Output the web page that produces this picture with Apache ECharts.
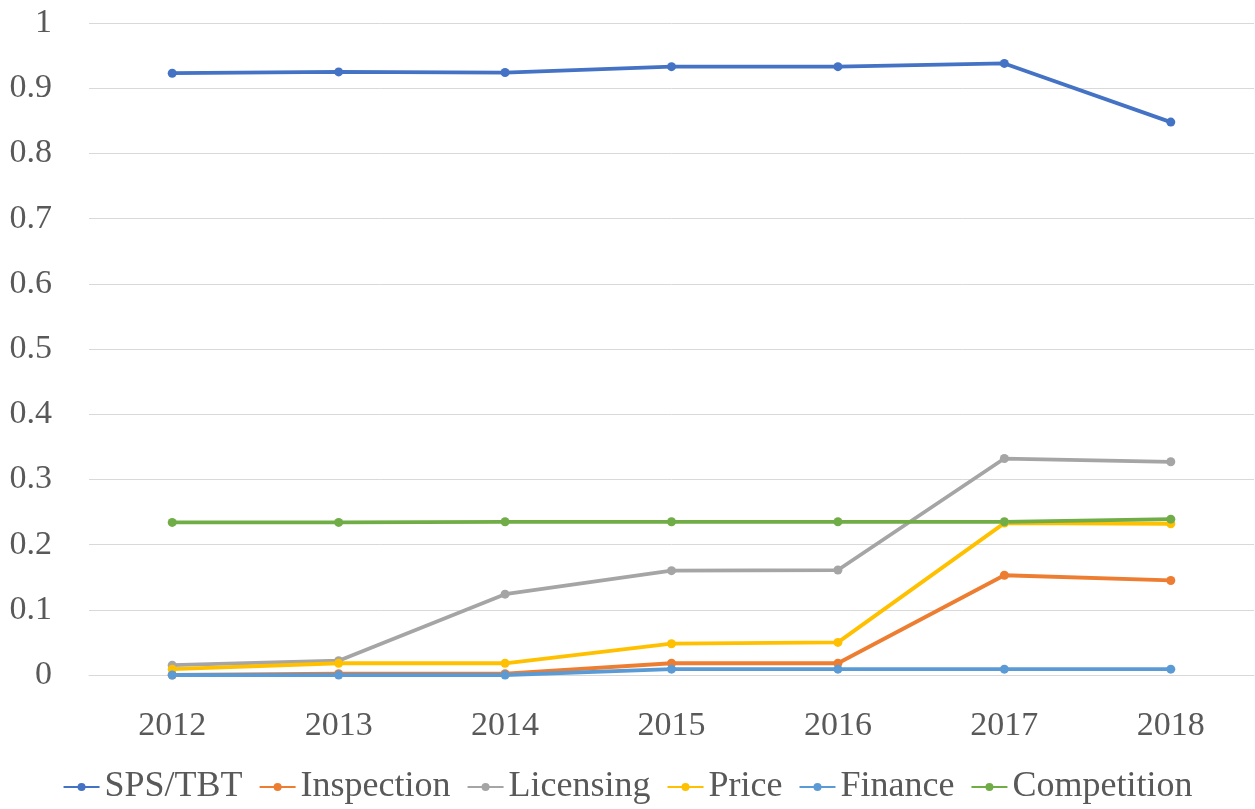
<!DOCTYPE html>
<html>
<head>
<meta charset="utf-8">
<style>
  html, body { margin: 0; padding: 0; background: #fff; }
  #chart { width: 1255px; height: 809px; }
</style>
<script src="https://cdn.jsdelivr.net/npm/echarts@6/dist/echarts.min.js"></script>
</head>
<body>
<div id="chart"></div>
<script>
const years = ['2012', '2013', '2014', '2015', '2016', '2017', '2018'];

const spsTbt = [0.923, 0.925, 0.924, 0.933, 0.933, 0.938, 0.848];
const inspection = [0.0, 0.002, 0.002, 0.018, 0.018, 0.153, 0.145];
const licensing = [0.015, 0.022, 0.124, 0.160, 0.161, 0.332, 0.327];
const price = [0.009, 0.018, 0.018, 0.048, 0.050, 0.233, 0.232];
const finance = [0.0, 0.0, 0.0, 0.009, 0.009, 0.009, 0.009];
const competition = [0.234, 0.234, 0.235, 0.235, 0.235, 0.235, 0.239];

const font = '"Liberation Serif", serif';
const textColor = '#595959';

const chart = echarts.init(document.getElementById('chart'));

const mkSeries = (name, data, color) => ({
  name,
  type: 'line',
  data,
  symbol: 'circle',
  symbolSize: 9,
  lineStyle: { width: 3.8, color },
  itemStyle: { color },
});

chart.setOption({
  animation: false,
  grid: { left: 89, right: 1, top: 23, bottom: 134 },
  legend: {
    bottom: -1,
    left: 'center',
    itemWidth: 36,
    itemHeight: 10,
    itemGap: 16,
    textStyle: { fontFamily: font, fontSize: 36, color: textColor },
  },
  xAxis: {
    type: 'category',
    data: years,
    boundaryGap: true,
    axisLine: { lineStyle: { color: '#d9d9d9', width: 1 } },
    axisTick: { show: false },
    axisLabel: { fontFamily: font, fontSize: 34, color: textColor, margin: 34 },
  },
  yAxis: {
    type: 'value',
    min: 0,
    max: 1,
    interval: 0.1,
    axisLine: { show: false },
    axisTick: { show: false },
    splitLine: { lineStyle: { color: '#d9d9d9', width: 1 } },
    axisLabel: { fontFamily: font, fontSize: 34, color: textColor, margin: 37 },
  },
  series: [
    mkSeries('SPS/TBT', spsTbt, '#4472c4'),
    mkSeries('Inspection', inspection, '#ed7d31'),
    mkSeries('Licensing', licensing, '#a5a5a5'),
    mkSeries('Price', price, '#ffc000'),
    mkSeries('Finance', finance, '#5b9bd5'),
    mkSeries('Competition', competition, '#70ad47'),
  ],
});
</script>
</body>
</html>
